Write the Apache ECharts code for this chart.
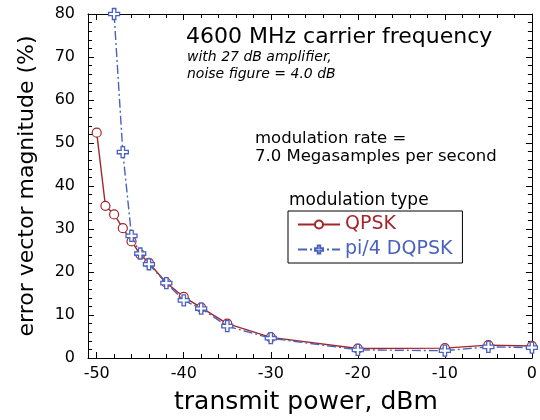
<!DOCTYPE html>
<html><head><meta charset="utf-8">
<script src="https://cdn.jsdelivr.net/npm/echarts@6/dist/echarts.min.js"></script>
<style>html,body{margin:0;padding:0;background:#fff}#c{width:540px;height:420px}</style>
</head><body><div id="c"></div>
<script>
var qpskX = [-50, -49, -48, -47, -46, -45, -44, -42, -40, -38, -35, -30, -20, -10, -5, 0];
var qpskY = [52.4, 35.4, 33.4, 30.2, 27.1, 24.1, 22.1, 17.5, 14.2, 11.7, 8.0, 4.8, 2.2, 2.3, 3.0, 2.8];
var dqpskX = [-48, -47, -46, -45, -44, -42, -40, -38, -35, -30, -20, -10, -5, 0];
var dqpskY = [80, 47.9, 28.4, 24.3, 21.8, 17.4, 13.4, 11.5, 7.4, 4.6, 1.9, 1.7, 2.6, 2.4];
var xMajor = [-50, -40, -30, -20, -10, 0];
var xMinor = [-50, -48, -46, -44, -42, -40, -38, -36, -34, -32, -30, -28, -26, -24, -22, -20, -18, -16, -14, -12, -10, -8, -6, -4, -2, 0];
var seriesNames = ['QPSK', 'pi/4 DQPSK'];

var RED = '#a3262a', BLUE = '#4a62bd';
var FONT = 'DejaVu Sans';
var plusPath = 'path://M-1,-3.2L1,-3.2L1,-1L3.2,-1L3.2,1L1,1L1,3.2L-1,3.2L-1,1L-3.2,1L-3.2,-1L-1,-1Z';

function zip(xs, ys){ return xs.map(function(x,i){ return [x, ys[i]]; }); }

function xAx(pos, ticks, len, labels, line){
  return {
    type: 'value', position: pos, min: -51, max: 0,
    axisLine: {show: line, onZero: false, lineStyle: {color: '#000', width: 1}},
    axisTick: {show: true, inside: true, length: len, customValues: ticks, lineStyle: {color: '#000'}},
    axisLabel: {show: labels, customValues: xMajor, fontFamily: FONT, fontSize: 16, color: '#000', margin: 8},
    splitLine: {show: false}
  };
}
function yAx(pos, labels){
  return {
    type: 'value', position: pos, min: 0, max: 80, interval: 10,
    axisLine: {show: true, onZero: false, lineStyle: {color: '#000', width: 1}},
    axisTick: {show: true, inside: true, length: 6, lineStyle: {color: '#000'}},
    minorTick: {show: true, splitNumber: 5, length: 4, lineStyle: {color: '#000'}},
    axisLabel: {show: labels, fontFamily: FONT, fontSize: 16, color: '#000', margin: 13},
    splitLine: {show: false}
  };
}

var chart = echarts.init(document.getElementById('c'), null, {renderer: 'canvas'});
chart.setOption({
  animation: false,
  backgroundColor: '#fff',
  grid: {left: 88, right: 2, top: 14, bottom: 62},
  xAxis: [
    xAx('bottom', xMajor, 6, true, true),
    xAx('bottom', xMinor, 4, false, false),
    xAx('top', xMajor, 6, false, true),
    xAx('top', xMinor, 4, false, false)
  ],
  yAxis: [yAx('left', true), yAx('right', false)],
  legend: {
    left: 288, top: 211, orient: 'vertical',
    borderColor: '#000', borderWidth: 1, borderRadius: 0,
    padding: [4, 10, 4, 9], itemGap: 6, itemWidth: 42, itemHeight: 10,
    textStyle: {fontFamily: FONT, fontSize: 19},
    data: [
      {name: seriesNames[0], textStyle: {color: RED}},
      {name: seriesNames[1], textStyle: {color: BLUE}}
    ]
  },
  graphic: [
    {type: 'text', left: 186, top: 26, style: {text: '4600 MHz carrier frequency', font: '22px "DejaVu Sans"', fill: '#000'}},
    {type: 'text', left: 187, top: 50, style: {text: 'with 27 dB amplifier,', font: 'italic 14px "DejaVu Sans"', fill: '#000'}},
    {type: 'text', left: 187, top: 67, style: {text: 'noise figure = 4.0 dB', font: 'italic 14px "DejaVu Sans"', fill: '#000'}},
    {type: 'text', left: 255, top: 130, style: {text: 'modulation rate =', font: '16.5px "DejaVu Sans"', fill: '#000'}},
    {type: 'text', left: 255, top: 148, style: {text: '7.0 Megasamples per second', font: '16.5px "DejaVu Sans"', fill: '#000'}},
    {type: 'text', left: 289, top: 192, style: {text: 'modulation type', font: '17px "DejaVu Sans"', fill: '#000'}},
    {type: 'text', left: 174, top: 390, style: {text: 'transmit power, dBm', font: '25px "DejaVu Sans"', fill: '#000'}},
    {type: 'text', x: 27, y: 186, rotation: Math.PI / 2, style: {text: 'error vector magnitude (%)', font: '22px "DejaVu Sans"', fill: '#000', align: 'center', verticalAlign: 'middle'}}
  ],
  series: [
    {
      name: seriesNames[0], type: 'line', xAxisIndex: 0, yAxisIndex: 0,
      data: zip(qpskX, qpskY),
      symbol: 'circle', symbolSize: 9, showAllSymbol: true,
      lineStyle: {color: RED, width: 1.4},
      itemStyle: {color: '#fff', borderColor: RED, borderWidth: 1.2},
      z: 3
    },
    {
      name: seriesNames[1], type: 'line', xAxisIndex: 0, yAxisIndex: 0,
      data: zip(dqpskX, dqpskY),
      symbol: plusPath, symbolSize: 11, showAllSymbol: true,
      lineStyle: {color: BLUE, width: 1.4, type: [9, 3, 2, 3]},
      itemStyle: {color: '#fff', borderColor: BLUE, borderWidth: 1.3},
      z: 4
    }
  ]
});
</script></body></html>
